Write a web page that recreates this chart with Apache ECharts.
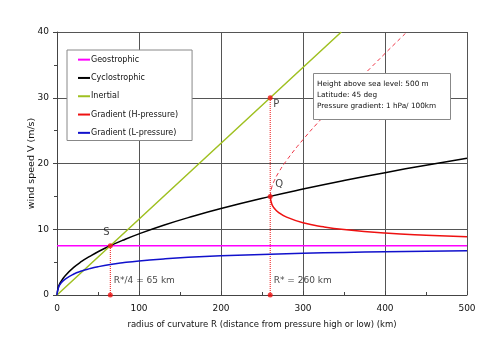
<!DOCTYPE html>
<html>
<head>
<meta charset="utf-8">
<script src="https://cdn.jsdelivr.net/npm/echarts@6/dist/echarts.min.js"></script>
<style>
  html, body { margin: 0; padding: 0; background: #fff; }
  #chart { width: 500px; height: 353px; }
</style>
</head>
<body>
<div id="chart"></div>
<script>
// radius R (km) and wind speeds V (m/s)
const radius = [0, 2, 5, 10, 20, 30, 40, 50, 65, 80, 100, 130, 160, 200, 260, 300, 350, 400, 450, 500];
const cyclostrophic = [0, 1.32, 2.08, 2.94, 4.16, 5.10, 5.88, 6.58, 7.5, 8.32, 9.30, 10.61, 11.77, 13.16, 15.0, 16.11, 17.40, 18.61, 19.74, 20.8];
const gradientLow = [0, 1.21, 1.81, 2.42, 3.16, 3.65, 4.01, 4.30, 4.64, 4.90, 5.18, 5.49, 5.73, 5.96, 6.21, 6.34, 6.47, 6.57, 6.65, 6.72];
const geoRadius = [0, 500];
const geostrophic = [7.5, 7.5];
const inertialRadius = [0, 65, 260, 346.7];
const inertial = [0, 7.5, 30, 40];
const highRadius = [260, 262, 265, 270, 280, 300, 325, 350, 400, 450, 500];
const gradientHigh = [15.0, 13.80, 13.19, 12.58, 11.84, 10.99, 10.37, 9.95, 9.42, 9.09, 8.86];
const anomRadius = [260, 262, 265, 270, 280, 300, 325, 350, 400, 426.7];
const gradientHighAnom = [15.0, 16.44, 17.39, 18.58, 20.47, 23.63, 27.14, 30.43, 36.73, 40];
const keyPoints = [
  { name: 'S', value: [65, 7.5], offset: [-4, -13] },
  { name: 'P', value: [260, 30], offset: [6, 7] },
  { name: 'Q', value: [260, 15], offset: [9, -12] }
];
const footPoints = [[65, 0], [260, 0]];
const footLabels = ['R*/4 = 65 km', 'R* = 260 km'];

const pair = (xs, ys) => xs.map((x, i) => [x, ys[i]]);
const font = 'DejaVu Sans';

const chart = echarts.init(document.getElementById('chart'));
const curve = (name, xs, ys, color, extra) => Object.assign({
  name: name,
  type: 'line',
  smooth: true,
  symbol: 'none',
  data: pair(xs, ys),
  lineStyle: { color: color, width: 1.5 },
  itemStyle: { color: color },
  z: 3
}, extra || {});

const options = {
  animation: false,
  grid: { left: 57, right: 33, top: 32, bottom: 58 },
  legend: {
    left: 67,
    top: 50,
    orient: 'vertical',
    data: ['Geostrophic', 'Cyclostrophic', 'Inertial', 'Gradient (H-pressure)', 'Gradient (L-pressure)'],
    backgroundColor: '#fff',
    borderColor: '#888',
    borderWidth: 1,
    padding: [4, 14, 2, 11],
    itemGap: 7,
    itemWidth: 12,
    itemHeight: 2,
    icon: 'rect',
    textStyle: { fontFamily: font, fontSize: 8, color: '#111', padding: [0, 0, 0, -4], lineHeight: 11.3 }
  },
  xAxis: {
    type: 'value',
    min: 0,
    max: 500,
    interval: 100,
    name: 'radius of curvature R (distance from pressure high or low) (km)',
    nameLocation: 'middle',
    nameGap: 25,
    nameTextStyle: { fontFamily: font, fontSize: 8.5, color: '#111' },
    axisLine: { lineStyle: { color: '#444' } },
    axisTick: { inside: true, length: 4, lineStyle: { color: '#444' } },
    minorTick: { show: true, splitNumber: 2, length: 3, lineStyle: { color: '#444' } },
    axisLabel: { fontFamily: font, fontSize: 9, color: '#111', margin: 9 },
    splitLine: { show: true, lineStyle: { color: '#555', width: 1 } }
  },
  yAxis: {
    type: 'value',
    min: 0,
    max: 40,
    interval: 10,
    name: 'wind speed V (m/s)',
    nameLocation: 'middle',
    nameGap: 20,
    nameMoveOverlap: false,
    nameTextStyle: { fontFamily: font, fontSize: 9.5, color: '#111' },
    axisLine: { show: true, lineStyle: { color: '#444' } },
    axisTick: { show: true, length: 4, lineStyle: { color: '#444' } },
    minorTick: { show: true, splitNumber: 2, length: 3, lineStyle: { color: '#444' } },
    axisLabel: { fontFamily: font, fontSize: 9, color: '#111', margin: 8 },
    splitLine: { show: true, lineStyle: { color: '#555', width: 1 } }
  },
  graphic: [
    {
      type: 'rect', left: 313, top: 73, z: 100,
      shape: { width: 137, height: 46 },
      style: { fill: '#fff', stroke: '#888', lineWidth: 1 }
    },
    {
      type: 'text', left: 317, top: 79, z: 101,
      style: {
        text: 'Height above sea level: 500 m\nLatitude: 45 deg\nPressure gradient: 1 hPa/ 100km',
        font: '7.3px "DejaVu Sans"', fill: '#111', lineHeight: 11
      }
    }
  ],
  series: [
    curve('Geostrophic', geoRadius, geostrophic, '#ff00ff', { smooth: false }),
    curve('Cyclostrophic', radius, cyclostrophic, '#000000'),
    curve('Inertial', inertialRadius, inertial, '#9fc021', { smooth: false }),
    curve('Gradient (H-pressure)', highRadius, gradientHigh, '#ee1111'),
    curve('Gradient (H-pressure)', anomRadius, gradientHighAnom, '#ee3344', {
      lineStyle: { color: '#ee3344', width: 1, type: [4, 3] }
    }),
    curve('Gradient (L-pressure)', radius, gradientLow, '#1111cc'),
    {
      type: 'line',
      symbol: 'none',
      data: [footPoints[0], keyPoints[0].value],
      lineStyle: { color: '#ee1111', width: 1, type: 'dotted' },
      z: 2
    },
    {
      type: 'line',
      symbol: 'none',
      data: [footPoints[1], keyPoints[1].value],
      lineStyle: { color: '#ee1111', width: 1, type: 'dotted' },
      z: 2
    },
    {
      type: 'scatter',
      symbolSize: 5,
      itemStyle: { color: '#ee1111' },
      data: keyPoints.map(p => ({
        name: p.name,
        value: p.value,
        label: { show: true, formatter: p.name, offset: p.offset, position: 'inside', fontFamily: font, fontSize: 10, color: '#111' }
      })),
      z: 5
    },
    {
      type: 'scatter',
      symbolSize: 5,
      itemStyle: { color: '#ee1111' },
      clip: false,
      data: footPoints.map((p, i) => ({
        value: p,
        label: { show: true, formatter: footLabels[i], position: 'right', offset: [-4, -14], fontFamily: font, fontSize: 9, color: '#111' }
      })),
      z: 5
    }
  ]
};
chart.setOption(options);
window.addEventListener('resize', () => chart.resize());
</script>
</body>
</html>
